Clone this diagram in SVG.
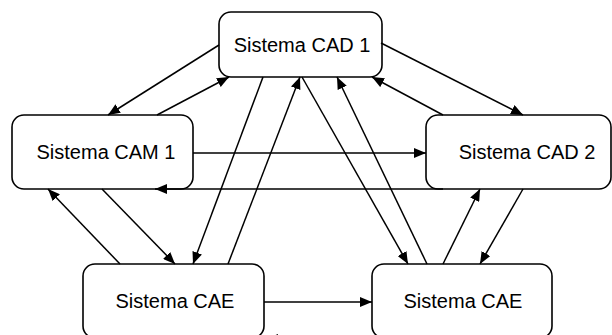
<svg xmlns="http://www.w3.org/2000/svg" width="612" height="335" viewBox="0 0 612 335">
<style>
.box{fill:#fff;stroke:#000;stroke-width:1.6}
.lbl{font-family:"Liberation Sans",Arial,sans-serif;font-size:20px;fill:#000;text-anchor:middle}
.c line{stroke:#000;stroke-width:1.5;marker-end:url(#ah)}
</style>
<defs>
<marker id="ah" markerUnits="userSpaceOnUse" markerWidth="12" markerHeight="10" refX="12" refY="5" orient="auto" viewBox="0 0 12 10">
<path d="M0,0 L12,5 L0,10 z" fill="#000"/>
</marker>
</defs>
<rect width="612" height="335" fill="#fff"/>
<g id="n-cad1"><rect class="box" x="219" y="12" width="163" height="65" rx="12"/><text class="lbl" x="302" y="52">Sistema CAD 1</text></g>
<g id="n-cam1"><rect class="box" x="12" y="115" width="181" height="74" rx="12"/><text class="lbl" x="106" y="159">Sistema CAM 1</text></g>
<g id="n-cad2"><rect class="box" x="426" y="115" width="185" height="74" rx="12"/><text class="lbl" x="527" y="159">Sistema CAD 2</text></g>
<g id="n-cae1"><rect class="box" x="83" y="264" width="181" height="74" rx="12"/><text class="lbl" x="175" y="308">Sistema CAE</text></g>
<g id="n-cae2"><rect class="box" x="372" y="264" width="180" height="74" rx="12"/><text class="lbl" x="463" y="308">Sistema CAE</text></g>
<g id="connectors" class="c">
<line x1="219" y1="45" x2="108" y2="115"/>
<line x1="157" y1="115" x2="229" y2="77"/>
<line x1="381" y1="43" x2="523" y2="115"/>
<line x1="443" y1="115" x2="372" y2="77"/>
<line x1="263" y1="77" x2="193" y2="264"/>
<line x1="228" y1="264" x2="300" y2="77"/>
<line x1="302" y1="77" x2="408" y2="264"/>
<line x1="427" y1="264" x2="337" y2="77"/>
<line x1="193" y1="153" x2="426" y2="153"/>
<line x1="443" y1="189" x2="155" y2="189"/>
<line x1="102" y1="189" x2="175" y2="264"/>
<line x1="120" y1="264" x2="48" y2="189"/>
<line x1="523" y1="189" x2="480" y2="264"/>
<line x1="443" y1="264" x2="480" y2="189"/>
<line x1="264" y1="302" x2="372" y2="302"/>
<line x1="372" y1="339" x2="266" y2="339"/>
</g>
</svg>
